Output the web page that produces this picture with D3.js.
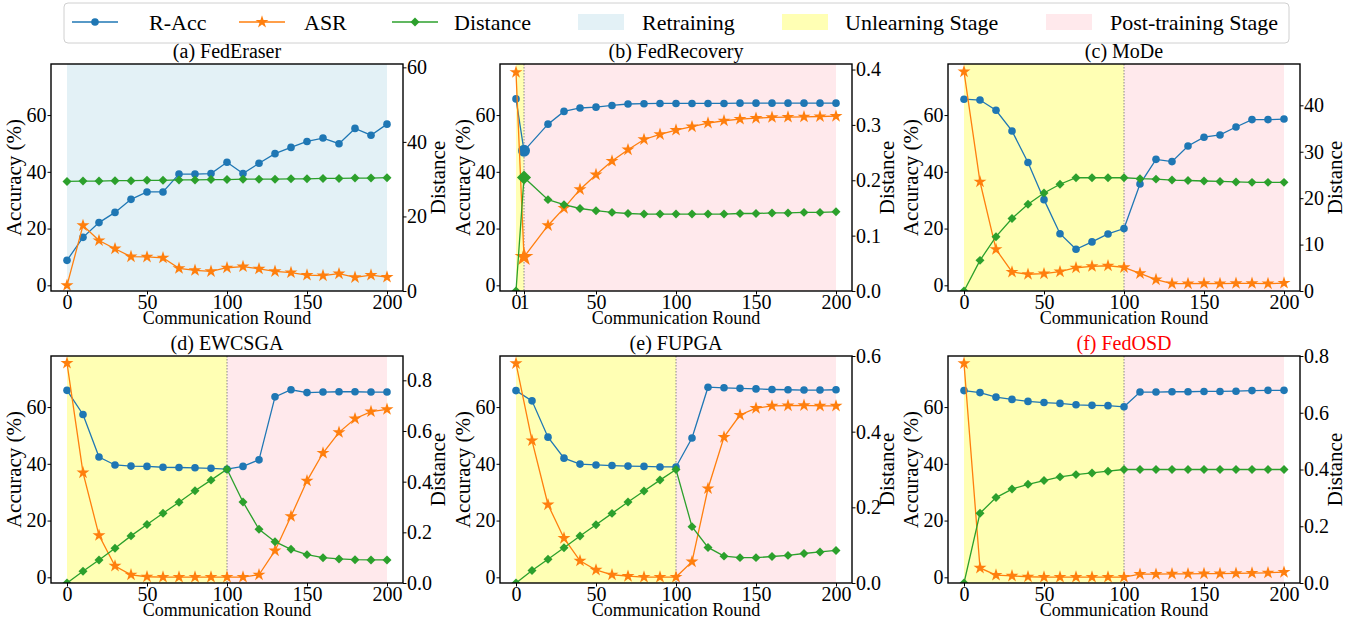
<!DOCTYPE html>
<html>
<head>
<meta charset="utf-8">
<script src="https://cdn.jsdelivr.net/npm/d3@7"></script>
<style>
  body { margin: 0; background: #fff; }
  svg text { font-family: "Liberation Serif", "Times New Roman", serif; }
</style>
</head>
<body>
<div id="chart"></div>
<script>
// Communication rounds (x values)
const rounds = [0, 10, 20, 30, 40, 50, 60, 70, 80, 90, 100, 110, 120, 130, 140, 150, 160, 170, 180, 190, 200];
const roundsFedRecovery = [0, 5, 20, 30, 40, 50, 60, 70, 80, 90, 100, 110, 120, 130, 140, 150, 160, 170, 180, 190, 200];

// (a) FedEraser
const fedEraserAcc = [8.8, 16.9, 22.1, 25.7, 30.3, 32.9, 32.9, 39.2, 39.2, 39.4, 43.4, 39.4, 43.0, 46.4, 48.6, 50.7, 51.9, 49.9, 55.3, 52.9, 56.8];
const fedEraserAsr = [0, 21.1, 15.8, 12.9, 10.1, 10.0, 9.7, 6.0, 5.3, 4.9, 6.2, 6.6, 5.8, 4.9, 4.5, 3.6, 3.4, 4.1, 2.8, 3.6, 2.9];
const fedEraserDist = [29.4, 29.5, 29.5, 29.6, 29.6, 29.7, 29.7, 29.8, 29.8, 29.9, 29.9, 30.0, 30.0, 30.0, 30.1, 30.1, 30.2, 30.2, 30.3, 30.3, 30.4];

// (b) FedRecovery
const fedRecoveryAcc = [65.7, 47.4, 56.8, 61.3, 62.5, 62.8, 63.4, 63.9, 64.0, 64.1, 64.1, 64.1, 64.1, 64.1, 64.2, 64.2, 64.2, 64.2, 64.2, 64.2, 64.2];
const fedRecoveryAsr = [75.1, 10.0, 21.1, 27.2, 33.8, 39.0, 43.8, 47.8, 51.4, 53.2, 54.7, 55.9, 57.2, 58.0, 58.6, 58.9, 59.2, 59.3, 59.4, 59.5, 59.6];
const fedRecoveryDist = [0, 0.205, 0.165, 0.156, 0.149, 0.145, 0.142, 0.140, 0.139, 0.139, 0.139, 0.139, 0.139, 0.139, 0.140, 0.140, 0.141, 0.141, 0.142, 0.142, 0.143];

// (c) MoDe
const modeAcc = [65.6, 65.3, 61.7, 54.4, 43.3, 30.2, 18.2, 12.7, 15.3, 18.1, 20.0, 35.7, 44.4, 43.6, 49.1, 52.2, 53.0, 55.8, 58.4, 58.4, 58.6];
const modeAsr = [75.3, 36.5, 12.7, 4.7, 3.9, 4.1, 4.8, 6.2, 6.7, 6.9, 6.3, 4.2, 2.0, 0.6, 0.6, 0.7, 0.6, 0.7, 0.7, 0.6, 0.8];
const modeDist = [0, 6.6, 11.7, 15.6, 18.7, 21.1, 23.0, 24.4, 24.4, 24.4, 24.4, 24.2, 24.1, 23.9, 23.8, 23.7, 23.6, 23.5, 23.4, 23.4, 23.4];

// (d) EWCSGA
const ewcsgaAcc = [65.9, 57.4, 42.4, 39.6, 39.2, 39.1, 38.8, 38.7, 38.6, 38.4, 38.1, 39.1, 41.4, 63.6, 66.1, 65.1, 65.3, 65.4, 65.4, 65.3, 65.3];
const ewcsgaAsr = [75.5, 36.9, 14.8, 4.0, 0.9, 0.2, 0.1, 0.1, 0.1, 0.1, 0.1, 0.1, 0.9, 9.4, 21.5, 34.0, 43.8, 51.1, 55.9, 58.4, 59.2];
const ewcsgaDist = [0, 0.046, 0.091, 0.137, 0.186, 0.231, 0.275, 0.319, 0.364, 0.406, 0.449, 0.320, 0.212, 0.163, 0.133, 0.112, 0.100, 0.095, 0.092, 0.091, 0.091];

// (e) FUPGA
const fupgaAcc = [65.8, 62.2, 49.4, 42.0, 39.9, 39.6, 39.4, 39.2, 39.1, 38.9, 38.9, 49.1, 67.0, 66.8, 66.6, 66.4, 66.2, 66.1, 66.0, 66.0, 66.1];
const fupgaAsr = [75.4, 48.2, 25.6, 13.8, 5.8, 2.6, 0.9, 0.4, 0.1, 0.1, 0.1, 5.5, 31.3, 49.4, 57.2, 59.6, 60.4, 60.5, 60.6, 60.4, 60.4];
const fupgaDist = [0, 0.033, 0.063, 0.093, 0.124, 0.154, 0.184, 0.214, 0.243, 0.272, 0.300, 0.149, 0.094, 0.071, 0.067, 0.067, 0.070, 0.073, 0.078, 0.082, 0.086];

// (f) FedOSD
const fedosdAcc = [65.8, 65.1, 63.5, 62.7, 62.0, 61.6, 61.3, 60.8, 60.6, 60.5, 60.1, 65.3, 65.3, 65.4, 65.4, 65.5, 65.5, 65.6, 65.8, 65.9, 65.9];
const fedosdAsr = [75.4, 3.3, 0.8, 0.5, 0.2, 0.1, 0.1, 0.1, 0.1, 0.1, 0.1, 1.1, 1.1, 1.2, 1.2, 1.3, 1.3, 1.4, 1.5, 1.6, 1.8];
const fedosdDist = [0, 0.246, 0.301, 0.331, 0.348, 0.361, 0.374, 0.382, 0.388, 0.394, 0.400, 0.400, 0.400, 0.400, 0.400, 0.400, 0.400, 0.400, 0.400, 0.400, 0.400];

// Tick labels
const accTicks = [0, 20, 40, 60];
const roundTicks = [0, 50, 100, 150, 200];
const roundTicksFedRecovery = [0, 5, 50, 100, 150, 200];
const roundTickLabelsFedRecovery = ["0", "1", "50", "100", "150", "200"];

const seriesNames = ["R-Acc", "ASR", "Distance"];
const stageNames = ["Retraining", "Unlearning Stage", "Post-training Stage"];

const colors = { acc: "#1f77b4", asr: "#ff7f0e", dist: "#2ca02c" };
const stageColors = { "Retraining": "#e3f1f6", "Unlearning Stage": "#ffffb4", "Post-training Stage": "#ffe9ec" };
const FONT = "'Liberation Serif', 'Times New Roman', serif";

const panels = [
    { title: "(a) FedEraser", x: rounds, acc: fedEraserAcc, asr: fedEraserAsr, dist: fedEraserDist,
      distMax: 60.9, distTicks: [0, 20, 40, 60], distFmt: d3.format("d"),
      stages: [["Retraining", 0, 200]], divider: null },
    { title: "(b) FedRecovery", x: roundsFedRecovery, acc: fedRecoveryAcc, asr: fedRecoveryAsr, dist: fedRecoveryDist,
      distMax: 0.41, distTicks: [0, 0.1, 0.2, 0.3, 0.4], distFmt: d3.format(".1f"),
      stages: [["Unlearning Stage", 0, 5], ["Post-training Stage", 5, 200]], divider: 5,
      xticks: roundTicksFedRecovery, xlabels: roundTickLabelsFedRecovery, highlight: 1 },
    { title: "(c) MoDe", x: rounds, acc: modeAcc, asr: modeAsr, dist: modeDist,
      distMax: 48.9, distTicks: [0, 10, 20, 30, 40], distFmt: d3.format("d"),
      stages: [["Unlearning Stage", 0, 100], ["Post-training Stage", 100, 200]], divider: 100 },
    { title: "(d) EWCSGA", x: rounds, acc: ewcsgaAcc, asr: ewcsgaAsr, dist: ewcsgaDist,
      distMax: 0.896, distTicks: [0, 0.2, 0.4, 0.6, 0.8], distFmt: d3.format(".1f"),
      stages: [["Unlearning Stage", 0, 100], ["Post-training Stage", 100, 200]], divider: 100 },
    { title: "(e) FUPGA", x: rounds, acc: fupgaAcc, asr: fupgaAsr, dist: fupgaDist,
      distMax: 0.6, distTicks: [0, 0.2, 0.4, 0.6], distFmt: d3.format(".1f"),
      stages: [["Unlearning Stage", 0, 100], ["Post-training Stage", 100, 200]], divider: 100 },
    { title: "(f) FedOSD", x: rounds, acc: fedosdAcc, asr: fedosdAsr, dist: fedosdDist,
      distMax: 0.8, distTicks: [0, 0.2, 0.4, 0.6, 0.8], distFmt: d3.format(".1f"),
      stages: [["Unlearning Stage", 0, 100], ["Post-training Stage", 100, 200]], divider: 100, titleColor: "#ff0000" }
];

// Layout
const colLeft = [51, 500, 948];
const rowTop = [64, 356];
const pw = 352, ph = 227;

const svg = d3.select("#chart").append("svg")
    .attr("width", 1367)
    .attr("height", 625)
    .attr("font-family", FONT);

// Marker shapes
const starPath = s => d3.symbol().type(d3.symbolStar).size(s)();
const diamondPath = s => d3.symbol().type(d3.symbolSquare).size(s)();

panels.forEach((p, i) => {
    const x0 = colLeft[i % 3], y0 = rowTop[Math.floor(i / 3)];
    const g = svg.append("g").attr("transform", `translate(${x0},${y0})`);

    const x = d3.scaleLinear().domain([-10, 210]).range([0, pw]);
    const yAcc = d3.scaleLinear().domain([-2, 78]).range([ph, 0]);
    const yDist = d3.scaleLinear().domain([0, p.distMax]).range([ph, 0]);

    const clipId = "clip" + i;
    g.append("clipPath").attr("id", clipId)
        .append("rect").attr("width", pw).attr("height", ph);

    const plot = g.append("g").attr("clip-path", `url(#${clipId})`);

    // Stage backgrounds
    p.stages.forEach(([name, a, b]) => {
        plot.append("rect")
            .attr("x", x(a)).attr("y", 0)
            .attr("width", x(b) - x(a)).attr("height", ph)
            .attr("fill", stageColors[name]);
    });
    if (p.divider !== null) {
        plot.append("line")
            .attr("x1", x(p.divider)).attr("x2", x(p.divider))
            .attr("y1", 0).attr("y2", ph)
            .attr("stroke", "#888").attr("stroke-width", 1)
            .attr("stroke-dasharray", "1.5,1.5");
    }

    const series = [
        { vals: p.acc, y: yAcc, color: colors.acc, kind: "circle" },
        { vals: p.asr, y: yAcc, color: colors.asr, kind: "star" },
        { vals: p.dist, y: yDist, color: colors.dist, kind: "diamond" }
    ];

    series.forEach(s => {
        const pts = p.x.map((r, k) => [r, s.vals[k]]);
        plot.append("path")
            .datum(pts)
            .attr("fill", "none")
            .attr("stroke", s.color)
            .attr("stroke-width", 1.3)
            .attr("d", d3.line().x(d => x(d[0])).y(d => s.y(d[1])));

        pts.forEach((d, k) => {
            const big = p.highlight === k;
            const cx = x(d[0]), cy = s.y(d[1]);
            if (s.kind === "circle") {
                plot.append("circle").attr("cx", cx).attr("cy", cy)
                    .attr("r", big ? 6 : 3.8).attr("fill", s.color);
            } else if (s.kind === "star") {
                plot.append("path").attr("d", starPath(big ? 110 : 52))
                    .attr("transform", `translate(${cx},${cy})`)
                    .attr("fill", s.color);
            } else {
                plot.append("path").attr("d", diamondPath(big ? 100 : 40))
                    .attr("transform", `translate(${cx},${cy}) rotate(45)`)
                    .attr("fill", s.color);
            }
        });
    });

    // Axes
    const styleAxis = sel => {
        sel.attr("font-family", FONT);
        sel.select(".domain").remove();
        sel.selectAll("text").style("font-size", "20px").attr("fill", "#000");
        sel.selectAll("line").attr("stroke", "#000");
    };

    g.append("g")
        .call(d3.axisLeft(yAcc).tickValues(accTicks).tickSize(3.5).tickPadding(1))
        .call(styleAxis);

    g.append("g")
        .attr("transform", `translate(${pw},0)`)
        .call(d3.axisRight(yDist).tickValues(p.distTicks).tickFormat(p.distFmt).tickSize(3.5).tickPadding(0.5))
        .call(styleAxis);

    const xticks = p.xticks || roundTicks;
    const xlabels = p.xlabels || roundTicks.map(String);
    g.append("g")
        .attr("transform", `translate(0,${ph})`)
        .call(d3.axisBottom(x).tickValues(xticks).tickFormat((d, k) => xlabels[k]).tickSize(3.5).tickPadding(0))
        .call(styleAxis);

    // Frame
    g.append("rect")
        .attr("width", pw).attr("height", ph)
        .attr("fill", "none").attr("stroke", "#000").attr("stroke-width", 1.4);

    // Labels
    g.append("text")
        .attr("x", pw / 2).attr("y", -6)
        .attr("text-anchor", "middle")
        .style("font-size", "20px")
        .attr("fill", p.titleColor || "#000")
        .text(p.title);

    g.append("text")
        .attr("x", pw / 2).attr("y", ph + 33)
        .attr("text-anchor", "middle")
        .style("font-size", "18px")
        .text("Communication Round");

    g.append("text")
        .attr("transform", `translate(-30,${ph / 2}) rotate(-90)`)
        .attr("text-anchor", "middle")
        .style("font-size", "21px")
        .text("Accuracy (%)");

    g.append("text")
        .attr("transform", `translate(${pw + 42},${ph / 2}) rotate(-90)`)
        .attr("text-anchor", "middle")
        .style("font-size", "21px")
        .text("Distance");
});

// Legend
const legend = svg.append("g");
legend.append("rect")
    .attr("x", 64).attr("y", 3)
    .attr("width", 1225).attr("height", 40)
    .attr("rx", 4)
    .attr("fill", "#fff")
    .attr("stroke", "#d0d0d0");

const handleX = [72, 239, 392, 578, 782, 1046];
const textX = [149, 304, 454, 642, 845, 1110];
const legendY = 22;

seriesNames.forEach((name, k) => {
    const c = [colors.acc, colors.asr, colors.dist][k];
    const hx = handleX[k];
    legend.append("line")
        .attr("x1", hx).attr("x2", hx + 46)
        .attr("y1", legendY).attr("y2", legendY)
        .attr("stroke", c).attr("stroke-width", 1.3);
    const mx = hx + 23;
    if (k === 0) {
        legend.append("circle").attr("cx", mx).attr("cy", legendY).attr("r", 3.8).attr("fill", c);
    } else if (k === 1) {
        legend.append("path").attr("d", starPath(52)).attr("transform", `translate(${mx},${legendY})`).attr("fill", c);
    } else {
        legend.append("path").attr("d", diamondPath(40)).attr("transform", `translate(${mx},${legendY}) rotate(45)`).attr("fill", c);
    }
    legend.append("text")
        .attr("x", textX[k]).attr("y", legendY + 8)
        .style("font-size", "22px")
        .text(name);
});

stageNames.forEach((name, k) => {
    const hx = handleX[k + 3];
    legend.append("rect")
        .attr("x", hx).attr("y", legendY - 8)
        .attr("width", 46).attr("height", 16)
        .attr("fill", stageColors[name]);
    legend.append("text")
        .attr("x", textX[k + 3]).attr("y", legendY + 8)
        .style("font-size", "22px")
        .text(name);
});

svg.selectAll("text").style("font-family", FONT);
</script>
</body>
</html>
